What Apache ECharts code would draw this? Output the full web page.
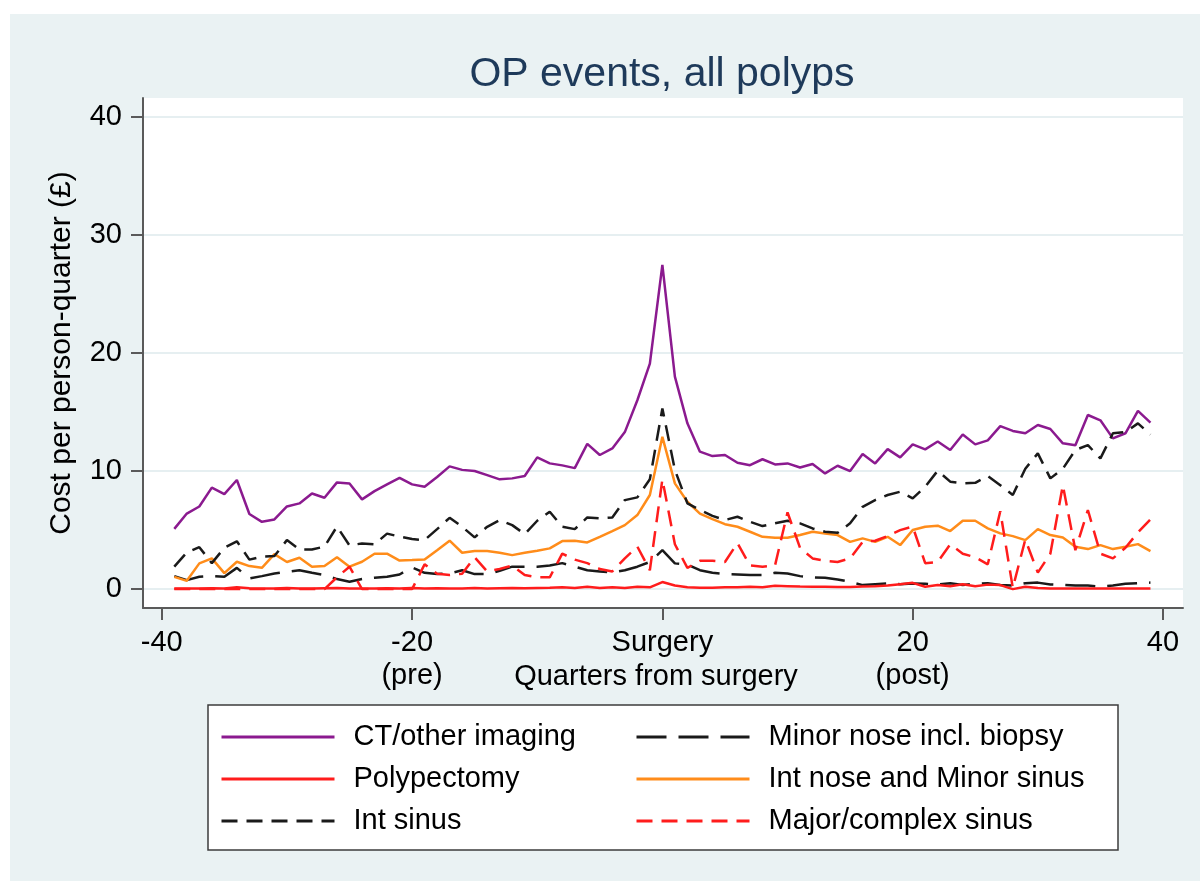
<!DOCTYPE html>
<html>
<head>
<meta charset="utf-8">
<title>OP events, all polyps</title>
<script src="https://cdn.jsdelivr.net/npm/echarts@6/dist/echarts.min.js"></script>
<style>
  html, body { margin: 0; padding: 0; background: #fff; }
  #chart { position: absolute; left: 10px; top: 14px; width: 1190px; height: 867px; background: #eaf2f3; }
</style>
</head>
<body>
<div id="chart"></div>
<script>
// quarters from surgery, -39 .. 39
const quarters = [];
for (let q = -39; q <= 39; q++) quarters.push(q);

const xTickValues = [-40, -20, 0, 20, 40];
const xTickLabels = ['-40', '-20\n(pre)', 'Surgery', '20\n(post)', '40'];
const yTickValues = [0, 10, 20, 30, 40];

const ctImaging = [
  5.1, 6.4, 7.0, 8.6, 8.05, 9.24, 6.36, 5.7, 5.9, 7.0,
  7.26, 8.1, 7.74, 9.04, 8.95, 7.6, 8.3, 8.87, 9.43, 8.87,
  8.67, 9.5, 10.4, 10.1, 10.0, 9.66, 9.3, 9.38, 9.58, 11.16,
  10.65, 10.48, 10.25, 12.3, 11.36, 11.92, 13.3, 16.0, 19.1, 27.46,
  18.0, 14.04, 11.64, 11.27, 11.36, 10.7, 10.5, 11.0, 10.56, 10.65,
  10.3, 10.6, 9.8, 10.45, 10.0, 11.44, 10.65, 11.86, 11.16, 12.26,
  11.84, 12.5, 11.78, 13.1, 12.26, 12.6, 13.8, 13.4, 13.2, 13.9,
  13.56, 12.35, 12.18, 14.75, 14.3, 12.77, 13.2, 15.1, 14.1
];
const minorNose = [
  1.1, 0.76, 1.04, 1.1, 1.04, 1.8, 0.9, 1.1, 1.33, 1.47,
  1.6, 1.38, 1.19, 0.85, 0.62, 0.85, 0.96, 1.04, 1.24, 1.84,
  1.38, 1.27, 1.33, 1.6, 1.27, 1.27, 1.55, 1.9, 1.9, 1.9,
  2.0, 2.2, 1.9, 1.6, 1.5, 1.4, 1.6, 1.9, 2.3, 3.3,
  2.18, 2.09, 1.6, 1.38, 1.27, 1.24, 1.19, 1.19, 1.38, 1.33,
  1.1, 0.99, 0.96, 0.82, 0.62, 0.34, 0.42, 0.48, 0.42, 0.48,
  0.45, 0.4, 0.5, 0.35, 0.45, 0.5, 0.35, 0.3, 0.5, 0.55,
  0.4, 0.35, 0.3, 0.3, 0.2, 0.3, 0.45, 0.5, 0.55
];
const polypectomy = [
  0.05, 0.05, 0.05, 0.08, 0.05, 0.15, 0.08, 0.05, 0.05, 0.1,
  0.05, 0.05, 0.08, 0.1, 0.05, 0.05, 0.05, 0.08, 0.05, 0.1,
  0.05, 0.08, 0.05, 0.05, 0.1, 0.05, 0.08, 0.1, 0.08, 0.1,
  0.12, 0.15, 0.1, 0.2, 0.1, 0.15, 0.1, 0.2, 0.15, 0.6,
  0.3, 0.15, 0.12, 0.12, 0.15, 0.15, 0.2, 0.15, 0.28, 0.25,
  0.22, 0.2, 0.2, 0.18, 0.18, 0.22, 0.25, 0.3, 0.42, 0.53,
  0.2, 0.34, 0.25, 0.42, 0.25, 0.38, 0.34, 0.0, 0.2, 0.1,
  0.05, 0.05, 0.05, 0.05, 0.05, 0.05, 0.05, 0.05, 0.05
];
const intNoseMinorSinus = [
  1.04, 0.7, 2.18, 2.6, 1.35, 2.32, 1.95, 1.8, 2.96, 2.3,
  2.66, 1.9, 1.96, 2.7, 1.9, 2.32, 3.0, 3.0, 2.42, 2.46,
  2.51, 3.3, 4.1, 3.08, 3.22, 3.22, 3.08, 2.88, 3.08, 3.25,
  3.45, 4.07, 4.1, 3.95, 4.43, 4.92, 5.42, 6.27, 7.97, 12.9,
  8.96, 7.4, 6.4, 5.93, 5.5, 5.28, 4.86, 4.43, 4.35, 4.35,
  4.58, 4.86, 4.72, 4.58, 4.0, 4.3, 4.0, 4.43, 3.73, 5.0,
  5.28, 5.37, 4.92, 5.79, 5.79, 5.14, 4.72, 4.49, 4.15, 5.08,
  4.58, 4.38, 3.59, 3.39, 3.73, 3.39, 3.59, 3.81, 3.22
];
const intSinus = [
  1.9, 3.1, 3.55, 2.2, 3.5, 4.05, 2.5, 2.75, 2.8, 4.15,
  3.35, 3.35, 3.6, 5.3, 3.7, 3.87, 3.8, 4.7, 4.45, 4.24,
  4.15, 5.08, 6.04, 5.28, 4.38, 5.28, 5.85, 5.42, 4.66, 5.79,
  6.55, 5.28, 5.08, 6.07, 5.99, 6.07, 7.54, 7.77, 9.3, 15.3,
  10.1, 7.26, 6.7, 6.2, 5.85, 6.13, 5.7, 5.34, 5.57, 5.79,
  5.57, 5.14, 4.86, 4.77, 5.57, 6.97, 7.54, 7.97, 8.25, 7.69,
  8.67, 10.03, 9.1, 8.96, 9.0, 9.58, 8.8, 7.97, 10.2, 11.5,
  9.38, 10.2, 11.78, 12.2, 11.07, 13.2, 13.3, 14.04, 13.1
];
const majorSinus = [
  0, 0, 0, 0, 0, 0, 0, 0, 0, 0,
  0, 0, 0, 1.0, 1.9, 0, 0, 0, 0, 0,
  2.1, 1.3, 1.2, 1.3, 2.7, 1.5, 1.7, 2.0, 1.2, 1.0,
  1.0, 3.0, 2.5, 2.2, 1.7, 1.5, 2.6, 3.6, 1.6, 9.3,
  3.8, 1.8, 2.4, 2.4, 2.3, 3.9, 2.0, 1.9, 2.0, 6.5,
  3.5, 2.6, 2.4, 2.3, 2.6, 4.0, 4.1, 4.5, 5.0, 5.3,
  2.2, 2.3, 3.8, 3.0, 2.7, 2.1, 6.6, 0.1, 4.2, 1.4,
  3.0, 8.8, 3.3, 6.7, 3.0, 2.6, 3.5, 4.8, 5.9
];

const FONT = '"Liberation Sans", Arial, sans-serif';

function pairs(values) {
  return quarters.map((q, i) => [q, values[i]]);
}

function lineSeries(name, values, color, dash) {
  return {
    name: name,
    type: 'line',
    data: pairs(values),
    symbol: 'none',
    showSymbol: false,
    animation: false,
    lineStyle: { color: color, width: 2.5, type: dash || 'solid' },
    itemStyle: { color: color },
    emphasis: { disabled: true }
  };
}

const chart = echarts.init(document.getElementById('chart'));

const legendBase = {
  orient: 'vertical',
  top: 708,
  padding: 0,
  itemWidth: 113,
  itemHeight: 14,
  itemGap: 12,
  selectedMode: false,
  itemStyle: { opacity: 0, borderWidth: 0 },
  lineStyle: { width: 3 },
  textStyle: { fontFamily: FONT, fontSize: 29, lineHeight: 30, color: '#000', padding: [0, 0, 0, 14] }
};

chart.setOption({
  backgroundColor: '#eaf2f3',
  title: {
    text: 'OP events, all polyps',
    left: 652,
    top: 40,
    padding: 0,
    textAlign: 'center',
    textStyle: { fontFamily: FONT, fontSize: 41, fontWeight: 'normal', color: '#1e3a5a' }
  },
  grid: {
    left: 133, top: 84, width: 1040, height: 510,
    show: true, backgroundColor: '#ffffff', borderWidth: 0
  },
  legend: [
    Object.assign({}, legendBase, { left: 210, data: ['CT/other imaging', 'Polypectomy', 'Int sinus'] }),
    Object.assign({}, legendBase, { left: 625, data: ['Minor nose incl. biopsy', 'Int nose and Minor sinus', 'Major/complex sinus'] })
  ],
  graphic: [{
    type: 'rect', z: -1,
    shape: { x: 198, y: 691, width: 910, height: 145 },
    style: { fill: '#ffffff', stroke: '#3c3c3c', lineWidth: 1.5 }
  }],
  xAxis: {
    type: 'value',
    min: -41.5, max: 41.6,
    name: 'Quarters from surgery',
    nameLocation: 'middle',
    nameGap: 54,
    nameMoveOverlap: false,
    nameTextStyle: { fontFamily: FONT, fontSize: 29, color: '#000', padding: [0, 14, 0, 0] },
    axisLine: { show: true, onZero: false, lineStyle: { color: '#5a5a5a', width: 2 } },
    axisTick: { show: true, length: 12, customValues: xTickValues, lineStyle: { color: '#5a5a5a', width: 2 } },
    axisLabel: {
      customValues: xTickValues,
      margin: 18,
      fontFamily: FONT, fontSize: 29, lineHeight: 33, color: '#000',
      formatter: v => xTickLabels[xTickValues.indexOf(v)]
    },
    splitLine: { show: false }
  },
  yAxis: {
    type: 'value',
    min: -1.6, max: 41.6,
    name: 'Cost per person-quarter (£)',
    nameLocation: 'middle',
    nameGap: 66,
    nameMoveOverlap: false,
    nameTextStyle: { fontFamily: FONT, fontSize: 30, color: '#000' },
    axisLine: { show: true, onZero: false, lineStyle: { color: '#5a5a5a', width: 2 } },
    axisTick: { show: true, length: 12, customValues: yTickValues, lineStyle: { color: '#5a5a5a', width: 2 } },
    axisLabel: { customValues: yTickValues, margin: 21, fontFamily: FONT, fontSize: 29, color: '#000' },
    splitLine: { show: true, lineStyle: { color: '#e6eff1', width: 2 } }
  },
  series: [
    lineSeries('CT/other imaging', ctImaging, '#8b1a8f'),
    lineSeries('Minor nose incl. biopsy', minorNose, '#1a1a1a', [30, 12]),
    lineSeries('Polypectomy', polypectomy, '#ff1c1c'),
    lineSeries('Int nose and Minor sinus', intNoseMinorSinus, '#ff8c1a'),
    lineSeries('Int sinus', intSinus, '#1a1a1a', [16, 9]),
    lineSeries('Major/complex sinus', majorSinus, '#ff1c1c', [16, 9])
  ]
});
</script>
</body>
</html>
